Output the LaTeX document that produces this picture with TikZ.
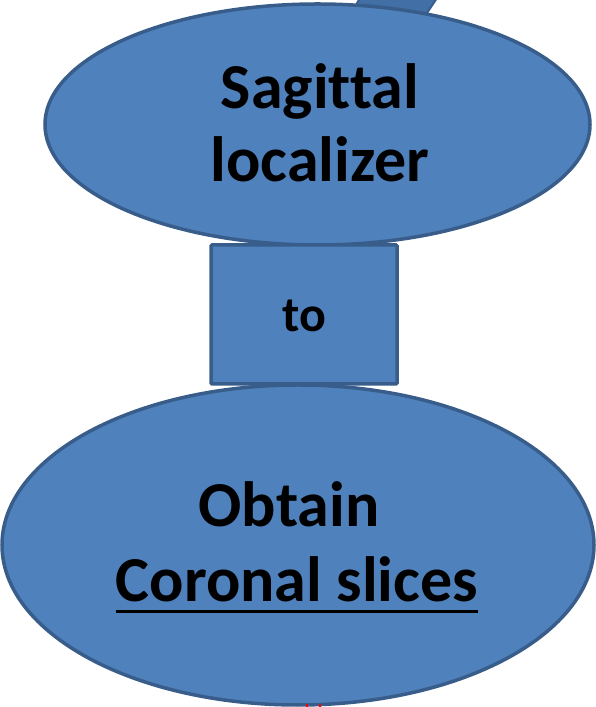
\documentclass[tikz,border=0pt]{standalone}
\usepackage{fontspec}
\setmainfont{Carlito}[Ligatures={NoCommon,NoRequired,NoContextual}]
\usetikzlibrary{shapes.geometric}
\definecolor{fillblue}{HTML}{4F81BD}
\definecolor{edgeblue}{HTML}{385D8A}
\definecolor{darkblue}{HTML}{4270A6}
\tikzset{
  blob/.style={ellipse, draw=edgeblue, fill=fillblue, line width=3.5pt, inner sep=0pt},
  boxnode/.style={rectangle, draw=edgeblue, fill=fillblue, line width=3.5pt, inner sep=0pt, rounded corners=1pt},
  bigtxt/.style={font=\bfseries\fontsize{64}{74}\selectfont, text=black, inner sep=0pt, anchor=base},
  smalltxt/.style={font=\bfseries\fontsize{50}{60}\selectfont, text=black, inner sep=0pt, anchor=base}
}
\begin{document}
\begin{tikzpicture}[x=1pt,y=1pt]
\useasboundingbox (0,0) rectangle (596,707);
% slanted piece at top, behind top ellipse
\filldraw[fill=darkblue, draw=edgeblue, line width=2pt] (360,709) -- (437,709) -- (423,688) -- (348,688) -- cycle;
% top ellipse
\node[blob, minimum width=545pt, minimum height=241pt] (top) at (317.5,582.5) {};
% bottom ellipse
\node[blob, minimum width=592pt, minimum height=320pt] (bot) at (298,162) {};
% connecting box
\node[boxnode, minimum width=186pt, minimum height=139pt] (mid) at (304,392.5) {};
% texts
\node[bigtxt] (t1) at (320,598) {Sagittal};
\node[bigtxt] (t2) at (320,525) {localizer};
\node[smalltxt] (t3) at (304,375) {to};
\node[bigtxt] (t4) at (289,180) {Obtain};
\node[bigtxt] (t5) at (297,105) {Coronal slices};
\draw[line width=3pt, black] ([yshift=-10pt]t5.base west) -- ([yshift=-10pt]t5.base east);
% small red marks at the bottom edge
\draw[red, line width=1.5pt] (307,0) -- (307,2.5);
\draw[red, line width=1.5pt] (320,0) -- (320,2.5);
\end{tikzpicture}
\end{document}
